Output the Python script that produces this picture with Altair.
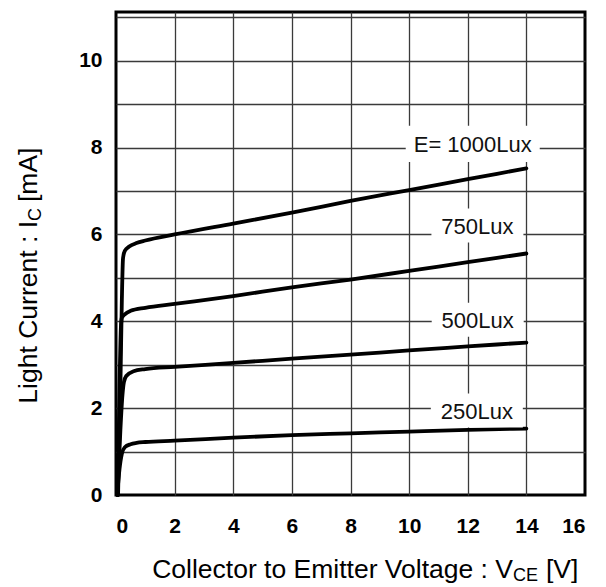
import altair as alt
import pandas as pd

FONT = "Liberation Sans"

# ---- data ----
series_names = ["E= 1000Lux", "750Lux", "500Lux", "250Lux"]

vce_1000 = [0.07, 0.15, 0.20, 0.24, 0.30, 0.45, 0.70, 1.0, 2, 4, 6, 8, 10, 12, 14]
ic_1000 = [0.0, 2.5, 4.5, 5.45, 5.62, 5.72, 5.80, 5.86, 6.00, 6.25, 6.50, 6.77, 7.02, 7.27, 7.52]

vce_750 = [0.06, 0.12, 0.17, 0.20, 0.30, 0.50, 1.0, 2, 4, 6, 8, 10, 12, 14]
ic_750 = [0.0, 2.5, 3.9, 4.08, 4.16, 4.24, 4.31, 4.40, 4.58, 4.78, 4.96, 5.16, 5.36, 5.56]

vce_500 = [0.05, 0.15, 0.22, 0.27, 0.35, 0.60, 1.0, 2, 4, 6, 8, 10, 12, 14]
ic_500 = [0.0, 1.5, 2.3, 2.6, 2.74, 2.85, 2.90, 2.95, 3.04, 3.14, 3.23, 3.33, 3.42, 3.51]

vce_250 = [0.04, 0.12, 0.20, 0.30, 0.50, 0.70, 1.0, 2, 4, 6, 8, 10, 12, 14]
ic_250 = [0.0, 0.6, 0.95, 1.10, 1.17, 1.20, 1.22, 1.25, 1.32, 1.38, 1.42, 1.46, 1.50, 1.53]

label_vce = [12.17, 12.33, 12.34, 12.31]
label_ic = [7.90, 6.02, 3.85, 1.76]

x_ticks = list(range(0, 17, 2))
y_ticks = list(range(0, 12))

rows = []
for name, xs, ys in zip(series_names,
                        [vce_1000, vce_750, vce_500, vce_250],
                        [ic_1000, ic_750, ic_500, ic_250]):
    for i, (xv, yv) in enumerate(zip(xs, ys)):
        rows.append({"series": name, "order": i, "vce": xv, "ic": yv})
curves = pd.DataFrame(rows)
labels = pd.DataFrame({"series": series_names, "vce": label_vce, "ic": label_ic})

W, H = 469, 483

xscale = alt.Scale(domain=[0, 16], nice=False, zero=False)
yscale = alt.Scale(domain=[0, 11.12], nice=False, zero=False)

x_enc = alt.X("vce:Q", scale=xscale, title=None,
              axis=alt.Axis(values=x_ticks, grid=True, domain=False, ticks=False,
                            tickSize=0, labelPadding=20, labelFontSize=21,
                            labelFontWeight="bold", labelFont=FONT, labelColor="black",
                            gridColor="#3a3a3a", gridWidth=1.3,
                            gridOpacity={"condition": {"test": "datum.value == 0 || datum.value == 16", "value": 0}, "value": 1}))
y_enc = alt.Y("ic:Q", scale=yscale, title=None,
              axis=alt.Axis(values=y_ticks, grid=True, domain=False, ticks=False,
                            tickSize=0, labelPadding=14, labelFontSize=21,
                            labelFontWeight="bold", labelFont=FONT, labelColor="black",
                            labelExpr="datum.value % 2 == 0 ? datum.label : ''",
                            gridColor="#3a3a3a", gridWidth=1.3,
                            gridOpacity={"condition": {"test": "datum.value == 0", "value": 0}, "value": 1}))

lines = alt.Chart(curves).mark_line(color="black", strokeWidth=3.8, strokeJoin="round",
                                    strokeCap="round", interpolate="monotone").encode(
    x=x_enc, y=y_enc, detail="series:N", order="order:Q")

big_box = alt.Chart(labels).transform_filter(alt.datum.series == "E= 1000Lux").mark_point(
    shape="M-1,-0.27H1V0.27H-1Z", filled=True, fill="white", opacity=1, strokeWidth=0,
    size=134 * 134, yOffset=-8).encode(x="vce:Q", y="ic:Q")
small_box = alt.Chart(labels).transform_filter(alt.datum.series != "E= 1000Lux").mark_point(
    shape="M-1,-0.37H1V0.37H-1Z", filled=True, fill="white", opacity=1, strokeWidth=0,
    size=92 * 92, yOffset=-8).encode(x="vce:Q", y="ic:Q")

label_text = alt.Chart(labels).mark_text(font=FONT, fontSize=22, color="#111",
                                         align="center", baseline="alphabetic").encode(
    x="vce:Q", y="ic:Q", text="series:N")

def txt(s, x, y, size=26.5, align="left", angle=0):
    kw = dict(font=FONT, fontSize=size, color="black", align=align, baseline="alphabetic")
    if angle:
        kw["angle"] = angle
    return alt.Chart(pd.DataFrame({"t": [s]})).mark_text(**kw).encode(
        x=alt.value(x), y=alt.value(y), text="t:N")

xt1 = txt("Collector to Emitter Voltage : V", 397, 566, align="right")
xt2 = txt("CE", 397, 569, size=18)
xt3 = txt("[V]", 430, 566)

yt1 = txt("Light Current : I", -79, 209, align="right", angle=270)
yt2 = txt("C", -75, 209, size=18, angle=270)
yt3 = txt("[mA]", -79, 190, angle=270)

chart = alt.layer(lines, big_box, small_box, label_text, xt1, xt2, xt3, yt1, yt2, yt3).properties(
    width=W, height=H, autosize="none",
    padding={"left": 108, "top": 4, "right": 13, "bottom": 90},
    background="white",
).configure_view(stroke="black", strokeWidth=3)

chart.save("out.html", embed_options={"renderer": "svg", "actions": False})
